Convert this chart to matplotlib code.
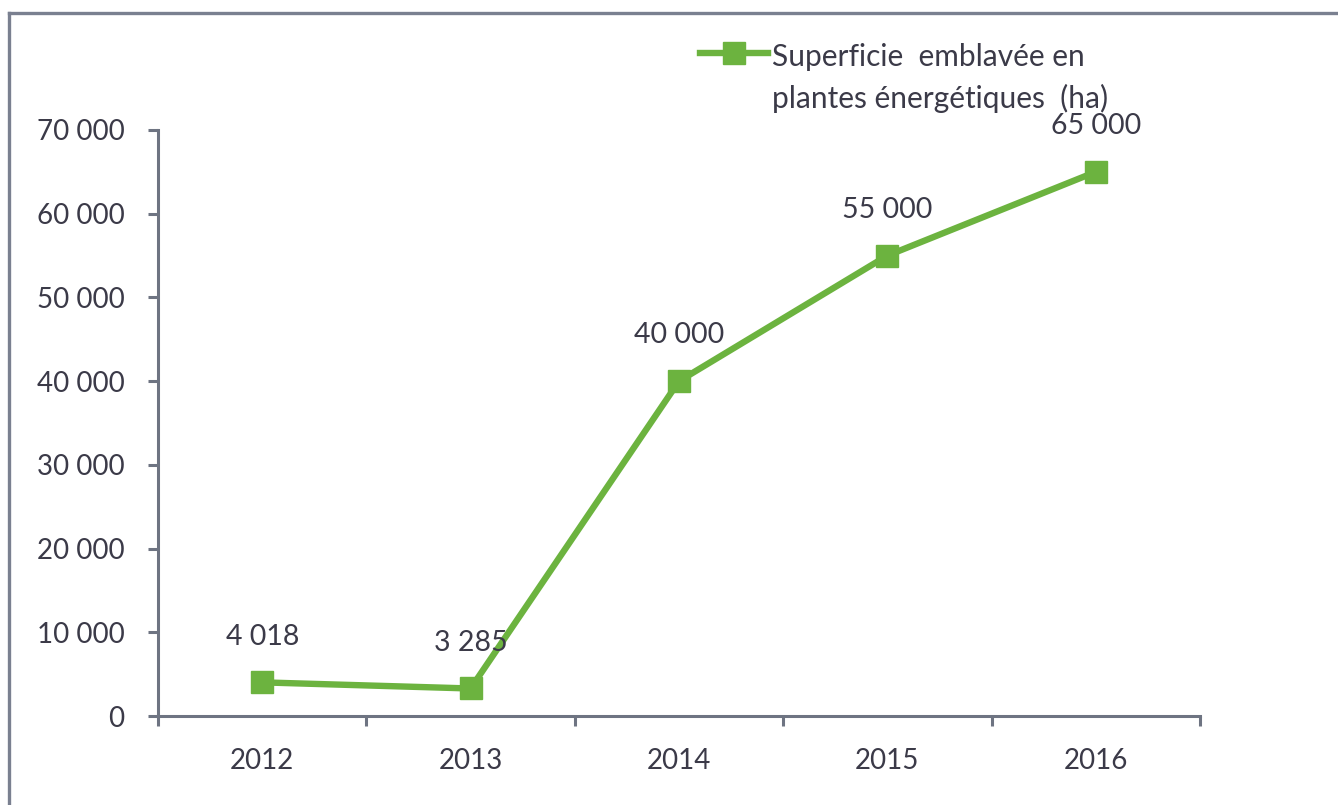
import matplotlib
matplotlib.use("Agg")
import matplotlib.pyplot as plt
from matplotlib.lines import Line2D
import numpy as np

years = ["2012", "2013", "2014", "2015", "2016"]
values = [4018, 3285, 40000, 55000, 65000]
value_labels = ["4 018", "3 285", "40 000", "55 000", "65 000"]
y_ticks = [0, 10000, 20000, 30000, 40000, 50000, 60000, 70000]
y_tick_labels = ["0", "10 000", "20 000", "30 000", "40 000", "50 000", "60 000", "70 000"]
legend_lines = ["Superficie  emblavée en", "plantes énergétiques  (ha)"]

GREEN = "#6cb33f"
TEXT = "#3b3a48"
AXC = "#6e7482"
FONT = "Lato"

W, H = 1338, 805
fig = plt.figure(figsize=(W / 100, H / 100), dpi=100)
fig.patch.set_facecolor("white")

def fx(px):
    return px / W

def fy(py):
    return 1 - py / H

ax = fig.add_axes([fx(158), fy(716), fx(1200) - fx(158), fy(130) - fy(716)])
x = np.arange(len(years))
ax.plot(x, values, color=GREEN, lw=4.6, marker="s", markersize=16,
        markerfacecolor=GREEN, markeredgecolor=GREEN, solid_joinstyle="round", clip_on=False, zorder=3)

ax.set_xlim(-0.5, len(years) - 0.5)
ax.set_ylim(0, 70000)
ax.set_yticks(y_ticks)
ax.set_yticklabels(y_tick_labels, fontsize=20, color=TEXT, family=FONT)
ax.set_xticks(x)
ax.set_xticklabels(years, fontsize=20, color=TEXT, family=FONT)
ax.set_xticks(np.arange(-0.5, len(years) + 0.5, 1.0), minor=True)
ax.tick_params(axis="x", which="major", length=0, pad=23)
ax.tick_params(axis="x", which="minor", length=7, width=2.2, color=AXC, direction="out")
ax.tick_params(axis="y", which="major", length=7, width=2.2, color=AXC, direction="out", pad=17)

for s in ["top", "right"]:
    ax.spines[s].set_visible(False)
for s in ["left", "bottom"]:
    ax.spines[s].set_color(AXC)
    ax.spines[s].set_linewidth(2.2)

for xi, v, lab in zip(x, values, value_labels):
    ax.annotate(lab, (xi, v), xytext=(0, 33), textcoords="offset points",
                ha="center", va="center", fontsize=20.5, color=TEXT, family=FONT)

# legend (manual)
fig.add_artist(Line2D([fx(700), fx(768)], [fy(53), fy(53)], color=GREEN, lw=4.6,
                      marker=None, transform=fig.transFigure))
fig.add_artist(Line2D([fx(734)], [fy(53)], color=GREEN, marker="s", markersize=16,
                      transform=fig.transFigure))
fig.text(fx(772), fy(57), legend_lines[0], fontsize=21.5, color=TEXT, family=FONT, ha="left", va="center")
fig.text(fx(772), fy(98), legend_lines[1], fontsize=21.5, color=TEXT, family=FONT, ha="left", va="center")

# outer frame
fig.add_artist(Line2D([fx(9), fx(1338)], [fy(13), fy(13)], color="#7a8090", lw=2.4, transform=fig.transFigure))
fig.add_artist(Line2D([fx(9), fx(9)], [fy(13), fy(805)], color="#7a8090", lw=2.4, transform=fig.transFigure))

fig.savefig("out.png", dpi=100, facecolor="white")
